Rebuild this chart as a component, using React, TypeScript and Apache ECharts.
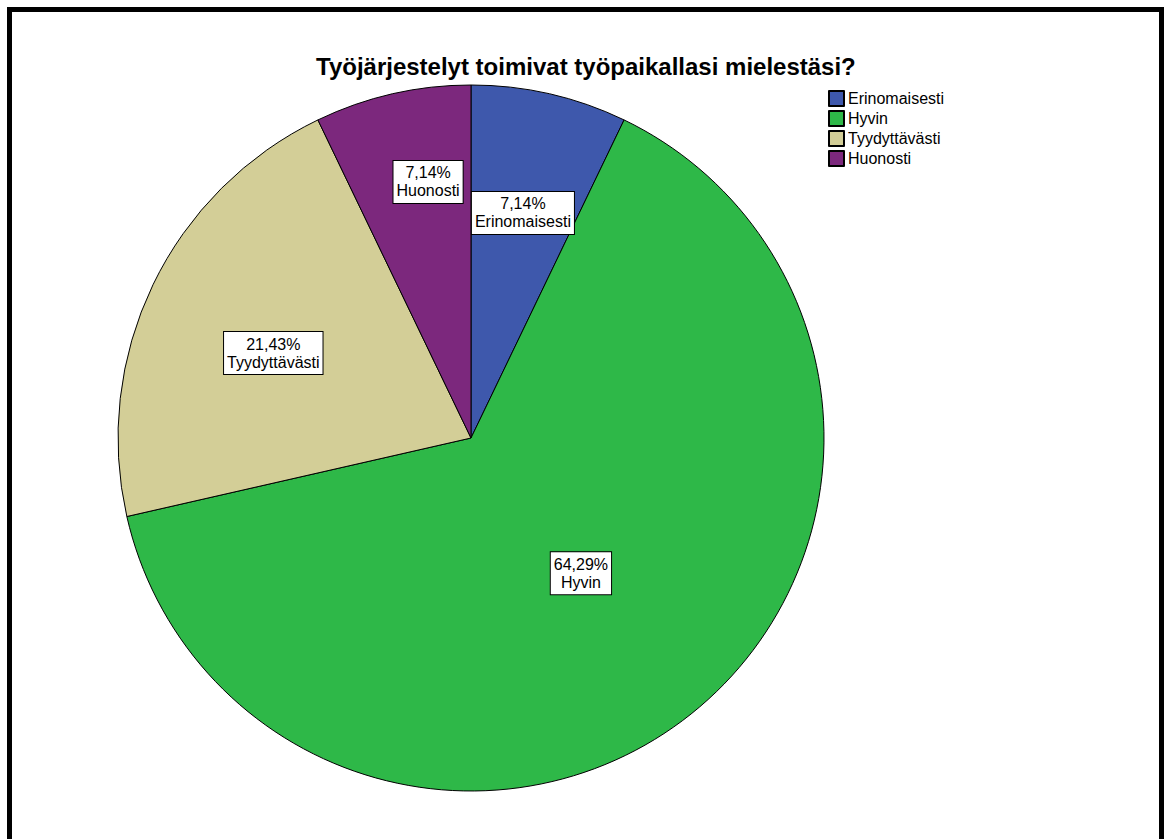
import React, { useEffect, useRef } from "react";
import * as echarts from "echarts";

// Survey answers: share of respondents (%)
const categories = ["Erinomaisesti", "Hyvin", "Tyydyttävästi", "Huonosti"];
const percents = [7.14, 64.29, 21.43, 7.14];
const colors = ["#3E58AC", "#2EB848", "#D3CE97", "#7C287D"];
const titleText = "Työjärjestelyt toimivat työpaikallasi mielestäsi?";

// Nudges for the inside labels, [dx, dy] in px
const labelNudge: [number, number][] = [
  [12, -50],
  [-2, -5],
  [-36, -7],
  [-3, -81],
];

const FONT = 'Arial, "Liberation Sans", sans-serif';

export default function App() {
  const ref = useRef<HTMLDivElement>(null);

  useEffect(() => {
    if (!ref.current) return;
    const chart = echarts.init(ref.current, null, { renderer: "svg" });
    const fmt = (v: number) => v.toFixed(2).replace(".", ",") + "%";

    chart.setOption({
      animation: false,
      backgroundColor: "#ffffff",
      title: {
        text: titleText,
        left: 316,
        top: 54,
        padding: 0,
        textStyle: {
          fontFamily: FONT,
          fontSize: 24,
          fontWeight: "bold",
          color: "#000",
        },
      },
      legend: {
        orient: "vertical",
        left: 828,
        top: 90,
        padding: 0,
        itemWidth: 15,
        itemHeight: 15,
        itemGap: 3,
        icon: "rect",
        selectedMode: false,
        data: categories,
        textStyle: {
          fontFamily: FONT,
          fontSize: 16,
          lineHeight: 15,
          color: "#000",
          padding: [0, 0, 0, -1],
        },
      },
      graphic: [
        {
          type: "rect",
          shape: { x: 9.5, y: 9.5, width: 1152, height: 900 },
          style: { fill: "none", stroke: "#000", lineWidth: 5 },
          silent: true,
          z: 100,
        },
      ],
      series: [
        {
          type: "pie",
          center: [471, 438],
          radius: [0, 353],
          startAngle: 90,
          clockwise: true,
          avoidLabelOverlap: false,
          labelLine: { show: false },
          itemStyle: { borderColor: "#000", borderWidth: 1 },
          emphasis: { disabled: true },
          label: {
            show: true,
            position: "inside",
            formatter: (p: any) => `${fmt(p.value)}\n${p.name}`,
            fontFamily: FONT,
            fontSize: 16,
            lineHeight: 18,
            color: "#000",
            backgroundColor: "#fff",
            borderColor: "#000",
            borderWidth: 1,
            padding: [3, 3, 3, 3],
            align: "center",
          },
          labelLayout: (params: any) => {
            const n = labelNudge[params.dataIndex] || [0, 0];
            return { dx: n[0], dy: n[1] };
          },
          data: categories.map((name, i) => ({
            name,
            value: percents[i],
            itemStyle: { color: colors[i] },
          })),
        },
      ],
    });

    return () => chart.dispose();
  }, []);

  return (
    <div
      ref={ref}
      style={{ position: "absolute", left: 0, top: 0, width: 1166, height: 839 }}
    />
  );
}
